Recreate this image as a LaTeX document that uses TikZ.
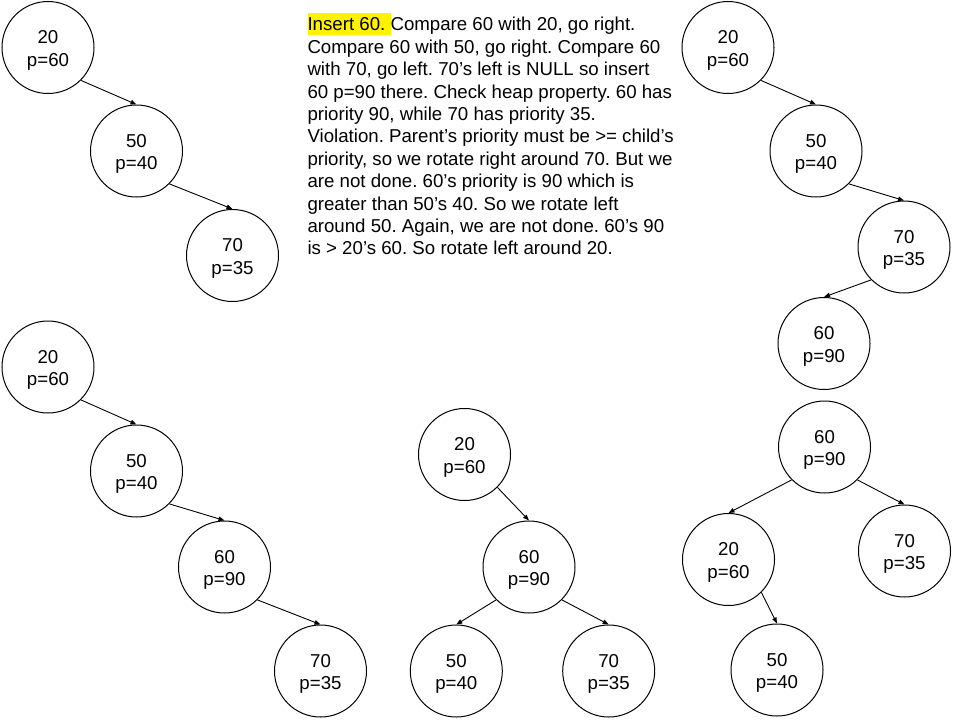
\documentclass[tikz,border=0pt]{standalone}
\usepackage{fontspec}
\setmainfont{Liberation Sans}
\usetikzlibrary{arrows.meta}
\frenchspacing
\begin{document}
\begin{tikzpicture}[x=1pt,y=-1pt,
  tnode/.style={circle,draw=black,line width=1pt,minimum size=92pt,inner sep=0pt,
    align=center,font=\fontsize{18.67}{22.4}\selectfont},
  arr/.style={line width=0.9pt,-{Triangle[length=6pt,width=4.5pt]}}]
\useasboundingbox (0,0) rectangle (960,720);
\newcommand{\tv}[2]{\rule{0pt}{19pt}#1\\#2}
% tree 1
\node[tnode] (a1) at (48,47.5) {\tv{20}{p=60}};
\node[tnode] (b1) at (136.5,151) {\tv{50}{p=40}};
\node[tnode] (c1) at (232.5,255.5) {\tv{70}{p=35}};
\draw[arr] (a1.south east) -- (b1.north);
\draw[arr] (b1.south east) -- (c1.north);
% tree 2
\node[tnode] (a2) at (728,47.5) {\tv{20}{p=60}};
\node[tnode] (b2) at (816,151) {\tv{50}{p=40}};
\node[tnode] (c2) at (904,247) {\tv{70}{p=35}};
\node[tnode] (d2) at (824,343.5) {\tv{60}{p=90}};
\draw[arr] (a2.south east) -- (b2.north);
\draw[arr] (b2.south east) -- (c2.north);
\draw[arr] (c2.south west) -- (d2.north);
% tree 3
\node[tnode] (a3) at (48,367) {\tv{20}{p=60}};
\node[tnode] (b3) at (136.5,471) {\tv{50}{p=40}};
\node[tnode] (c3) at (224.5,567) {\tv{60}{p=90}};
\node[tnode] (d3) at (320.5,671) {\tv{70}{p=35}};
\draw[arr] (a3.south east) -- (b3.north);
\draw[arr] (b3.south east) -- (c3.north);
\draw[arr] (c3.south east) -- (d3.north);
% tree 4
\node[tnode] (a4) at (464.5,454.5) {\tv{20}{p=60}};
\node[tnode] (b4) at (529,567) {\tv{60}{p=90}};
\node[tnode] (c4) at (456.3,671) {\tv{50}{p=40}};
\node[tnode] (d4) at (608.7,671) {\tv{70}{p=35}};
\draw[arr] (a4.south east) -- (b4.north);
\draw[arr] (b4.south west) -- (c4.north);
\draw[arr] (b4.south east) -- (d4.north);
% tree 5
\node[tnode] (a5) at (824.5,447) {\tv{60}{p=90}};
\node[tnode] (b5) at (728.5,559.5) {\tv{20}{p=60}};
\node[tnode] (c5) at (904.5,551) {\tv{70}{p=35}};
\node[tnode] (d5) at (777,670) {\tv{50}{p=40}};
\draw[arr] (a5.south west) -- (b5.north);
\draw[arr] (a5.south east) -- (c5.north);
\draw[arr] (b5.south east) -- (d5.north);
% explanation text
\node[anchor=north west,inner sep=0pt,align=left,font=\fontsize{18.67}{22.4}\selectfont] (txt) at (307.3,13)
{{\setlength{\fboxsep}{0pt}\colorbox{yellow}{\rule[-4pt]{0pt}{21.7pt}Insert 60.\ }}Compare 60 with 20, go right.\\
Compare 60 with 50, go right. Compare 60\\
with 70, go left. 70’s left is NULL so insert\\
60 p=90 there. Check heap property. 60 has\\
priority 90, while 70 has priority 35.\\
Violation. Parent’s priority must be >= child’s\\
priority, so we rotate right around 70. But we\\
are not done. 60’s priority is 90 which is\\
greater than 50’s 40. So we rotate left\\
around 50. Again, we are not done. 60’s 90\\
is > 20’s 60. So rotate left around 20.};
\end{tikzpicture}
\end{document}
